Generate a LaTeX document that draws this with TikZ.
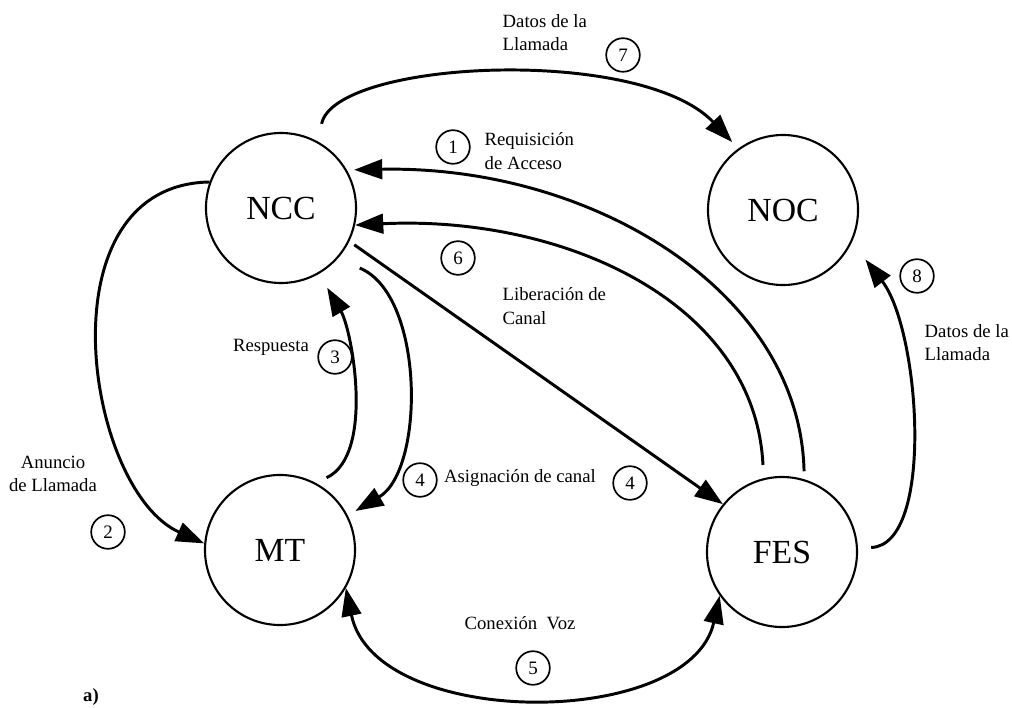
\documentclass[tikz,border=0pt]{standalone}
\usepackage{fontspec}
\setmainfont{Liberation Serif}
\usetikzlibrary{arrows.meta}

\tikzset{
  station/.style={circle, draw, line width=1.5pt, minimum size=3.75cm, inner sep=0pt, font=\fontsize{24}{26}\selectfont},
  stepnum/.style={circle, draw, line width=1.2pt, minimum size=0.84cm, inner sep=0pt, font=\fontsize{13.5}{14}\selectfont},
  msg/.style={font=\fontsize{13.3}{16.5}\selectfont, align=left, inner sep=1pt},
  link/.style={line width=2.1pt, ->},
  >={Triangle[length=20pt, width=14pt]},
}

\begin{document}
\begin{tikzpicture}[x=0.025cm, y=-0.025cm]
  \useasboundingbox (0,0) rectangle (1012,708);

  % Stations
  \node[station] (NCC) at (281,208) {NCC};
  \node[station] (NOC) at (783,210) {NOC};
  \node[station] (MT) at (280,550) {MT};
  \node[station] (FES) at (782,552) {FES};

  % Messages
  \draw[link, shorten <=0.45cm, shorten >=0.22cm] (NCC.61) .. controls (335,60) and (640,45) .. (NOC.126);
  \draw[link, shorten <=0.2cm, shorten >=0.18cm] (FES.73) .. controls (800,290) and (590,165) .. (NCC.30);
  \draw[link, shorten <=0.33cm] (FES.104) .. controls (755,300) and (560,215) .. (NCC.-13);
  \draw[link, shorten <=0.15cm] (NCC.-26) -- (FES.141);
  \draw[link] (NCC.160) .. controls (40,185) and (85,490) .. (MT.175);
  \draw[link, shorten <=0.3cm, shorten >=0.4cm] (MT.62) .. controls (375,455) and (352,330) .. (NCC.-60);
  \draw[link, shorten <=0.6cm, shorten >=0.22cm] (NCC.-42) .. controls (425,295) and (425,470) .. (MT.27);
  \draw[link, <->] (MT.-30) .. controls (375,730) and (690,730) .. (FES.-145);
  \draw[link, shorten <=0.33cm, shorten >=0.55cm] (FES.3) .. controls (935,545) and (920,330) .. (NOC.-25);

  % Labels
  \node[msg, anchor=west] (datosA) at (501,33) {Datos de la\\Llamada};
  \node[stepnum] (n7) at (623,55) {7};
  \node[stepnum] (n1) at (453,147) {1};
  \node[msg, anchor=west] (requis) at (483,151) {Requisición\\de Acceso};
  \node[stepnum] (n6) at (458,258) {6};
  \node[msg, anchor=west] (liber) at (501,306) {Liberación de\\Canal};
  \node[msg] (resp) at (271,347) {Respuesta};
  \node[stepnum] (n3) at (335,357) {3};
  \node[msg, align=center] (anuncio) at (53,474) {Anuncio\\de Llamada};
  \node[stepnum] (n2) at (108,532) {2};
  \node[stepnum] (n4a) at (420,480) {4};
  \node[msg] (asig) at (520,478) {Asignación de canal};
  \node[stepnum] (n4b) at (630,483) {4};
  \node[msg] (conex) at (520,623) {Conexión\ \ Voz};
  \node[stepnum] (n5) at (533,668) {5};
  \node[stepnum] (n8) at (917,276) {8};
  \node[msg, anchor=west] (datosB) at (923,343) {Datos de la\\Llamada};
  \node[font=\bfseries\fontsize{13.3}{16}\selectfont] (fig) at (91,697) {a)};
\end{tikzpicture}
\end{document}
